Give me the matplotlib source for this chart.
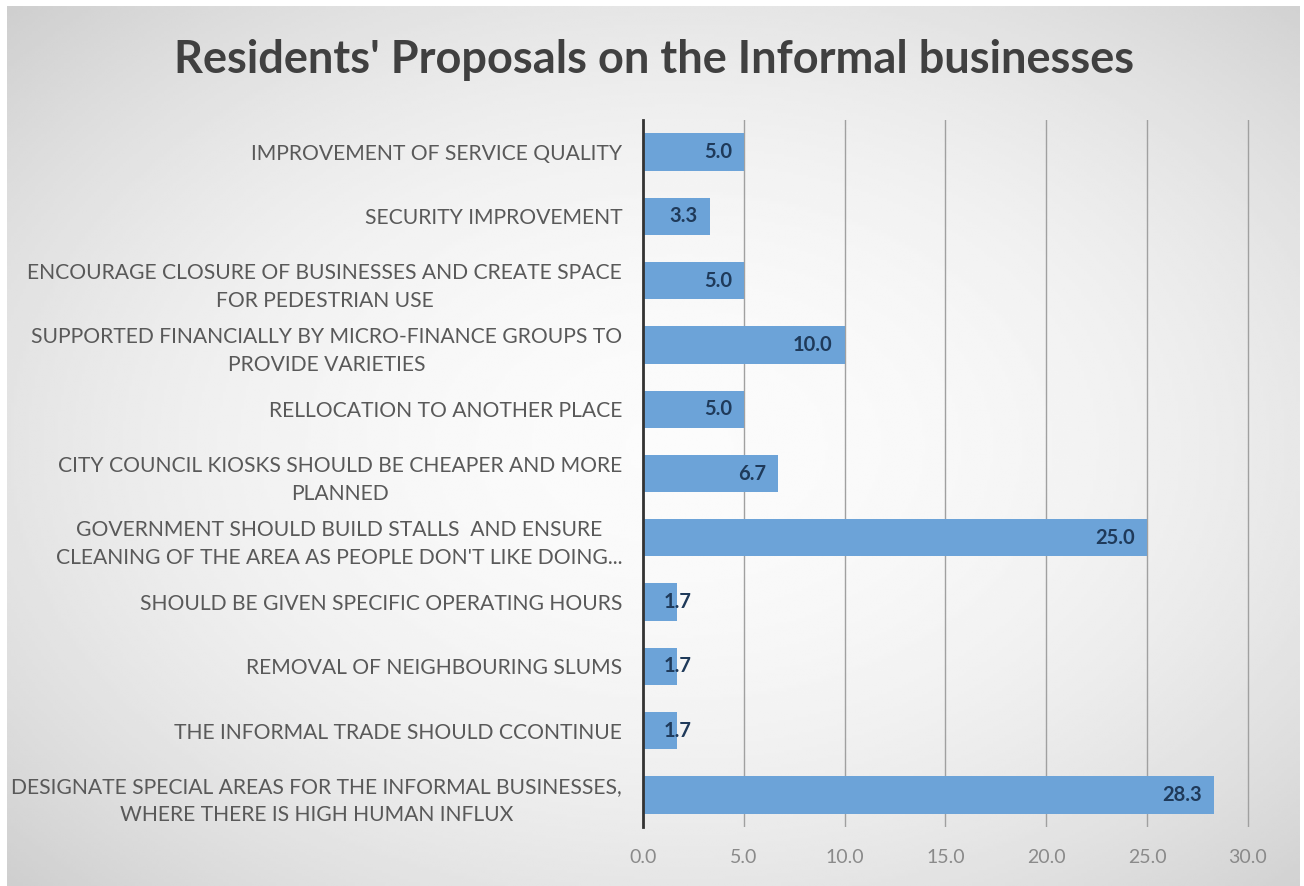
import matplotlib.pyplot as plt
import numpy as np

# survey responses, top to bottom as listed
proposals = [
    "IMPROVEMENT OF SERVICE QUALITY",
    "SECURITY IMPROVEMENT",
    "ENCOURAGE CLOSURE OF BUSINESSES AND CREATE SPACE\nFOR PEDESTRIAN USE",
    "SUPPORTED FINANCIALLY BY MICRO-FINANCE GROUPS TO\nPROVIDE VARIETIES",
    "RELLOCATION TO ANOTHER PLACE",
    "CITY COUNCIL KIOSKS SHOULD BE CHEAPER AND MORE\nPLANNED",
    "GOVERNMENT SHOULD BUILD STALLS  AND ENSURE\nCLEANING OF THE AREA AS PEOPLE DON'T LIKE DOING...",
    "SHOULD BE GIVEN SPECIFIC OPERATING HOURS",
    "REMOVAL OF NEIGHBOURING SLUMS",
    "THE INFORMAL TRADE SHOULD CCONTINUE",
    "DESIGNATE SPECIAL AREAS FOR THE INFORMAL BUSINESSES,\nWHERE THERE IS HIGH HUMAN INFLUX",
]
percent = [5.0, 3.3, 5.0, 10.0, 5.0, 6.7, 25.0, 1.7, 1.7, 1.7, 28.3]
xticks = [0, 5, 10, 15, 20, 25, 30]

font = ["Lato", "DejaVu Sans"]
bar_color = "#6ca3d8"

fig = plt.figure(figsize=(13.04, 8.86), dpi=100)
fig.patch.set_facecolor("white")

# soft radial background
bg = fig.add_axes([7 / 1304, 0, 1 - 11 / 1304, 1 - 6 / 886])
yy, xx = np.mgrid[0:1:300j, 0:1:440j]
r = np.sqrt(((xx - 0.52) / 0.75) ** 2 + ((yy - 0.5) / 0.75) ** 2)
shade = 0.985 - 0.19 * np.clip(r, 0, 1.2) ** 2
bg.imshow(shade, cmap="gray", vmin=0, vmax=1, aspect="auto",
          extent=[0, 1, 0, 1], interpolation="bilinear")
bg.set_axis_off()

xmax = 30.1
ax = fig.add_axes([643 / 1304, 1 - 827 / 886, (1250 - 643) / 1304, (827 - 120) / 886])
ax.patch.set_alpha(0)

y = np.arange(len(proposals))
ax.barh(y, percent, height=0.58, color=bar_color, zorder=3)
ax.set_ylim(len(proposals) - 0.5, -0.5)
ax.set_xlim(0, xmax)

for yi, v in zip(y, percent):
    if v < 3:
        ax.text(v, yi, f"{v:.1f}", ha="center", va="center", fontsize=14.5,
                fontweight="bold", color="#1f3a5a", family=font, zorder=4)
    else:
        ax.text(v - 0.6, yi, f"{v:.1f}", ha="right", va="center", fontsize=14.5,
                fontweight="bold", color="#1f3a5a", family=font, zorder=4)

ax.set_xticks(xticks)
ax.set_xticklabels([f"{t:.1f}" for t in xticks], fontsize=14, color="#8a8a8a",
                   family=font)
ax.set_yticks(y)
ax.set_yticklabels(proposals, fontsize=15.2, color="#595959", family=font,
                   multialignment="center", linespacing=1.5)
ax.tick_params(axis="y", length=0, pad=15)
ax.tick_params(axis="x", length=0, pad=16)

ax.grid(axis="x", color="#a0a0a0", linewidth=1.0, zorder=0)
for side in ["top", "right", "bottom"]:
    ax.spines[side].set_visible(False)
ax.spines["left"].set_color("#333333")
ax.spines["left"].set_linewidth(2)
ax.spines["left"].set_zorder(5)

fig.text(654 / 1304, 1 - 60 / 886, "Residents' Proposals on the Informal businesses",
         ha="center", va="center", fontsize=32.5, fontweight="bold",
         color="#404040", family=font)

fig.savefig("out.png", dpi=100)
